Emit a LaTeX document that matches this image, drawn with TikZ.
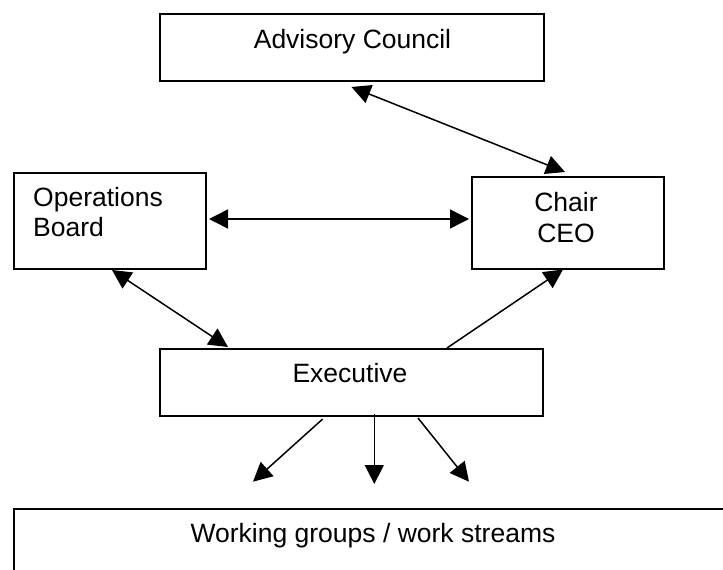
\documentclass[tikz,border=0pt]{standalone}
\usepackage{fontspec}
\setmainfont{Liberation Sans}
\usetikzlibrary{arrows.meta,calc}
\begin{document}
\begin{tikzpicture}[x=1pt,y=-1pt,
  box/.style={draw, line width=2pt, rectangle, inner sep=0pt, anchor=north west},
  lbl/.style={font=\fontsize{26.5}{30.5}\selectfont, inner sep=0pt},
  conn/.style={line width=1.5pt, -{Triangle[length=19pt,width=19pt]}},
  bi/.style={line width=1.5pt, {Triangle[length=19pt,width=19pt]}-{Triangle[length=19pt,width=19pt]}}]
\useasboundingbox (0,0) rectangle (723,570);
\clip (0,0) rectangle (723,570);
\fill[white] (0,0) rectangle (723,570);

\node[box, minimum width=384.5pt, minimum height=67.5pt] (adv) at (158.5,12.5) {};
\node[lbl, anchor=base] (advt) at (352.5,48) {Advisory Council};

\node[box, minimum width=192.5pt, minimum height=95.5pt] (ops) at (12.5,172) {};
\node[lbl, anchor=base west, align=left] (opst) at (33,236.5) {Operations\\Board};

\node[box, minimum width=192.5pt, minimum height=91.5pt] (chair) at (470.5,176) {};
\node[lbl, anchor=base, align=center] (chairt) at (566,242) {Chair\\CEO};

\node[box, minimum width=383.5pt, minimum height=67pt] (exec) at (158.5,348) {};
\node[lbl, anchor=base] (exect) at (350,382.7) {Executive};

\node[box, minimum width=800pt, minimum height=120pt] (wg) at (12.5,508) {};
\node[lbl, anchor=base] (wgt) at (373,542.7) {Working groups / work streams};

\coordinate (c1) at (253,481.7);
\coordinate (c2) at (374.3,484);
\coordinate (c3) at (469,481.7);

\draw[bi] ($(adv.south west)+(193,5)$) -- ($(chair.north west)+(94.5,-4)$);
\draw[bi] ($(ops.north east)+(2,47)$) -- ($(chair.north west)+(-1.5,43)$);
\draw[bi] ($(ops.south west)+(99.5,0.5)$) -- ($(exec.north west)+(69.5,-1)$);
\draw[conn] ($(exec.north west)+(288.5,0)$) -- ($(chair.south west)+(92.5,0)$);
\draw[conn] ($(exec.south west)+(164.2,2)$) -- (c1);
\draw[conn] ($(exec.south west)+(215.8,-3)$) -- (c2);
\draw[conn] ($(exec.south west)+(259.5,1)$) -- (c3);
\end{tikzpicture}
\end{document}
